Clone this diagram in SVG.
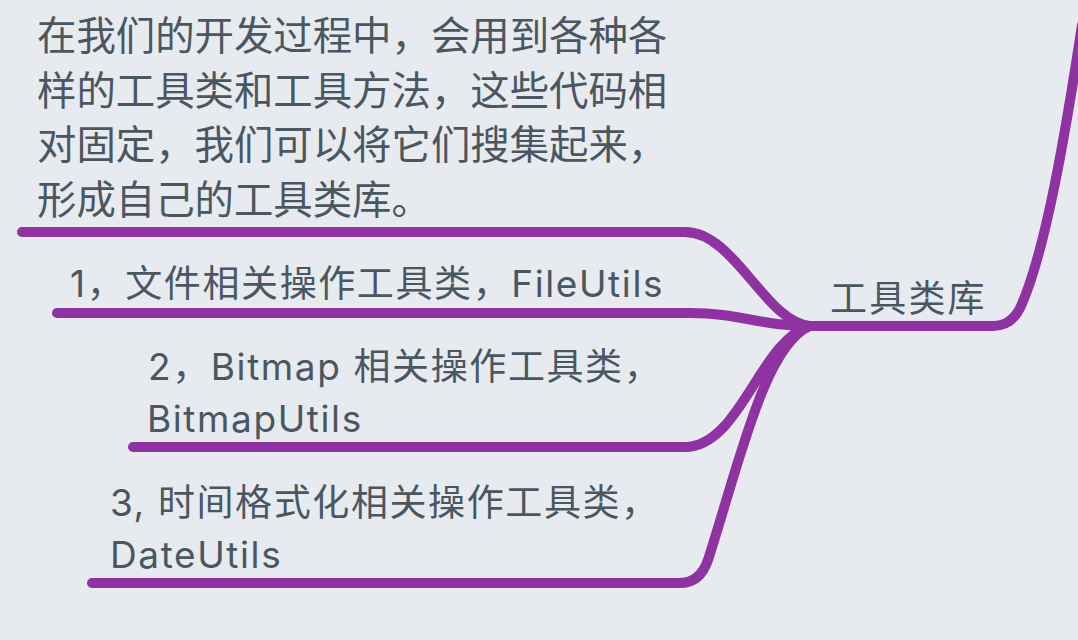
<svg xmlns="http://www.w3.org/2000/svg" width="1078" height="640" viewBox="0 0 1078 640">
  <style>
    .bg { fill: #e7eaee; }
    .branch { fill: none; stroke: #8f32a2; stroke-width: 10; stroke-linecap: round; stroke-linejoin: round; }
    .t { fill: #4a5761; font-family: Inter, "Noto Sans CJK SC", sans-serif; }
    .para { font-size: 39.4px; }
    .node { font-size: 37px; letter-spacing: 1.6px; }
  </style>
  <rect class="bg" x="0" y="0" width="1078" height="640"/>
  <g id="connectors">
    <path class="branch" d="M 805 326 L 993 326 Q 1012 326 1021 306 C 1046 250 1066 130 1082 25"/>
    <path class="branch" d="M 22 232 L 685 232 C 735 232 765 322 810 326"/>
    <path class="branch" d="M 57 313 L 690 313 C 740 313 760 326 810 326"/>
    <path class="branch" d="M 133 447 L 685 447 C 740 447 760 340 810 326"/>
    <path class="branch" d="M 92 583 L 680 583 Q 700 583 708 560 C 740 460 765 345 810 326"/>
  </g>
  <g id="node-root">
    <text class="t node" x="830" y="312" style="letter-spacing:2.2px">工具类库</text>
  </g>
  <g id="node-intro">
    <text class="t para" x="37" y="50">在我们的开发过程中，会用到各种各</text>
    <text class="t para" x="37" y="105">样的工具类和工具方法，这些代码相</text>
    <text class="t para" x="37" y="159">对固定，我们可以将它们搜集起来，</text>
    <text class="t para" x="37" y="214">形成自己的工具类库。</text>
  </g>
  <g id="node-file">
    <text class="t node" x="70" y="297">1，文件相关操作工具类，FileUtils</text>
  </g>
  <g id="node-bitmap">
    <text class="t node" x="148" y="380">2，Bitmap 相关操作工具类，</text>
    <text class="t node" x="147" y="432">BitmapUtils</text>
  </g>
  <g id="node-date">
    <text class="t node" x="110" y="516">3, 时间格式化相关操作工具类，</text>
    <text class="t node" x="110" y="568">DateUtils</text>
  </g>
</svg>
